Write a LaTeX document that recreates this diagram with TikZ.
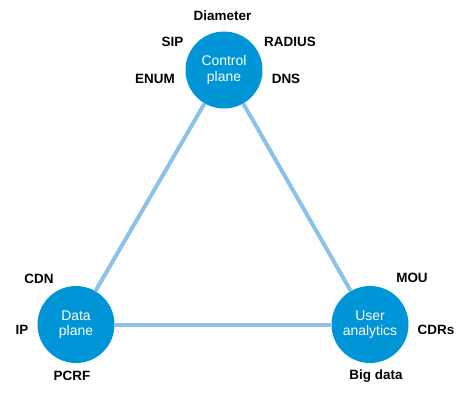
\documentclass[tikz,border=0pt]{standalone}
\usepackage{fontspec}
\setmainfont{Liberation Sans}
\definecolor{hub}{RGB}{0,149,214}
\definecolor{link}{RGB}{140,194,234}
\begin{document}
\begin{tikzpicture}[x=1bp,y=-1bp,
  hubnode/.style={circle,fill=hub,minimum size=77bp,inner sep=0pt,text=white,align=center,font=\fontsize{14}{15.5}\selectfont},
  tag/.style={font=\bfseries\fontsize{13.5}{15}\selectfont,text=black,inner sep=0pt},
  linkline/.style={draw=link,line width=4bp}]
\useasboundingbox (0,0) rectangle (468,404);
\node[hubnode] (cp) at (224,70) {Control\\plane};
\node[hubnode] (dp) at (76,324.5) {Data\\plane};
\node[hubnode] (ua) at (370,324.5) {User\\analytics};
\draw[linkline] (cp) -- (dp);
\draw[linkline] (cp) -- (ua);
\draw[linkline] (dp) -- (ua);
\node[tag] (t1) at (222.5,16) {Diameter};
\node[tag] (t2) at (172.5,42) {SIP};
\node[tag] (t3) at (290,42) {RADIUS};
\node[tag] (t4) at (155,79) {ENUM};
\node[tag] (t5) at (286,79) {DNS};
\node[tag] (t6) at (39,279) {CDN};
\node[tag] (t7) at (22,330) {IP};
\node[tag] (t8) at (72,376) {PCRF};
\node[tag] (t9) at (412,278) {MOU};
\node[tag] (t10) at (436,330) {CDRs};
\node[tag] (t11) at (376,376) {Big data};
\end{tikzpicture}
\end{document}
